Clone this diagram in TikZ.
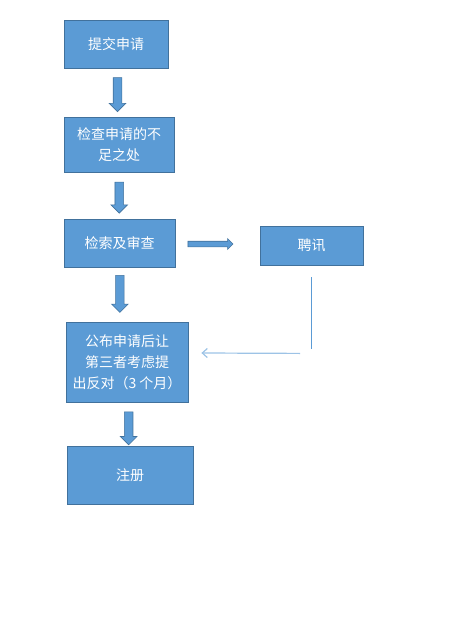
\documentclass[tikz,border=0pt]{standalone}
\usepackage{fontspec}
\newfontfamily\cjk{Noto Sans CJK SC}
\usetikzlibrary{arrows.meta, calc, positioning, shapes.arrows}
\definecolor{boxfill}{HTML}{5B9BD5}
\definecolor{boxline}{HTML}{41719C}
\definecolor{thinblue}{HTML}{9DC3E6}
\tikzset{
    stepbox/.style args={#1 #2}{
        draw=boxline, fill=boxfill, line width=0.8pt, text=white,
        minimum width=#1, minimum height=#2, inner sep=0pt, align=center,
        font=\cjk\fontsize{14}{21}\selectfont
    },
    bigarrow/.style args={#1 #2}{
        single arrow, draw=boxline, fill=boxfill, line width=0.6pt,
        inner xsep=0pt, inner ysep=#2, single arrow head extend=#2,
        minimum width=0pt, minimum height=#1
    },
    feedback/.style={draw=boxfill, line width=0.8pt}
}
\begin{document}
\begin{tikzpicture}[x=1pt, y=-1pt]
    \useasboundingbox (0,0) rectangle (461,618);
    \node[stepbox={104pt 48pt}] (submit) at (116,44) {提交申请};
    \node[stepbox={110pt 55pt}] (check) at (119,144.5) {检查申请的不\\足之处};
    \node[stepbox={111pt 48pt}] (search) at (119.5,243) {检索及审查};
    \node[stepbox={103pt 39pt}] (hearing) at (311.5,245.5) {聘讯};
    \node[stepbox={122pt 80pt}] (publish) at (127,362) {公布申请后让\\第三者考虑提\\出反对（3 个月）};
    \node[stepbox={126pt 58pt}] (register) at (130,475) {注册};
    % block arrows
    \node[bigarrow={34pt 4pt}, rotate=-90] (d1) at ($(submit.south)!0.5!(check.north)$) {};
    \node[bigarrow={31pt 4pt}, rotate=-90] (d2) at ($(check.south)!0.5!(search.north)$) {};
    \node[bigarrow={37pt 4pt}, rotate=-90] (d3) at ([xshift=-3pt]$(search.south)!0.45!(publish.north)$) {};
    \node[bigarrow={33pt 4pt}, rotate=-90] (d4) at ($(publish.south)!0.55!(register.north)$) {};
    \node[bigarrow={45pt 2.5pt}] (r1) at ($(search.east)!0.4!(hearing.west)$) {};
    % thin return line
    \draw[feedback] ([yshift=-12pt]hearing.south) -- ([yshift=-84pt]hearing.south);
    \draw[feedback, draw=thinblue, line width=1.2pt, -{Straight Barb[length=5pt, width=9pt]}]
        ([xshift=-11.5pt, yshift=-88pt]hearing.south) -- ([xshift=13pt, yshift=9pt]publish.east);
\end{tikzpicture}
\end{document}
